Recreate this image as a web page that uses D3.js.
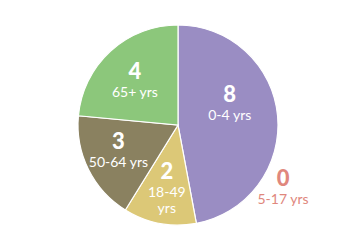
<!DOCTYPE html>
<html><head><meta charset="utf-8">
<script src="https://cdn.jsdelivr.net/npm/d3@7"></script>
<style>body{margin:0;background:#fff}svg{display:block}text{font-family:Lato,"Open Sans",sans-serif}</style>
</head><body>
<svg id="c" width="350" height="250"></svg>
<script>
const categories = ["0-4 yrs", "5-17 yrs", "18-49 yrs", "50-64 yrs", "65+ yrs"];
const values = [8, 0, 2, 3, 4];
const colors = ["#9a8dc3", "#e0877d", "#dcc877", "#8a8160", "#8cc77b"];
const labelLines = [["0-4 yrs"], ["5-17 yrs"], ["18-49", "yrs"], ["50-64 yrs"], ["65+ yrs"]];

const svg = d3.select("#c");
const cx = 178, cy = 125, R = 100;
const g = svg.append("g").attr("transform", `translate(${cx},${cy})`);
const data = categories.map((c, i) => ({c, v: values[i], i}));
const pie = d3.pie().value(d => d.v).sort(null);
const arcs = pie(data);
const arc = d3.arc().innerRadius(0).outerRadius(R);
const labelArc = d3.arc().innerRadius(0).outerRadius(R * 1.22);

g.selectAll("path").data(arcs.filter(a => a.data.v > 0)).join("path")
  .attr("d", arc).attr("fill", d => colors[d.data.i])
  .attr("stroke", "#fff").attr("stroke-width", 1.2);

const nudge = {0: [-9, -15], 2: [0, 4], 3: [-5, -1], 4: [-2, 1]};
arcs.forEach(a => {
  let x, y;
  if (a.data.v === 0) {
    x = 105; y = 63;
  } else {
    [x, y] = labelArc.centroid(a);
    const n = nudge[a.data.i] || [0, 0];
    x += n[0]; y += n[1];
  }
  const lines = labelLines[a.data.i];
  const fill = a.data.v === 0 ? colors[a.data.i] : "#fff";
  const t = g.append("text").attr("text-anchor", "middle").attr("fill", fill)
    .attr("transform", `translate(${x},${y})`);
  const top = -(lines.length * 16 + 20) / 2;
  t.append("tspan").attr("x", 0).attr("y", top + 16).attr("font-size", 22).attr("font-weight", 900).text(a.data.v);
  lines.forEach((l, k) => t.append("tspan").attr("x", 0).attr("y", top + 34 + k * 16)
    .attr("font-size", 14).text(l));
});
</script>
</body></html>
